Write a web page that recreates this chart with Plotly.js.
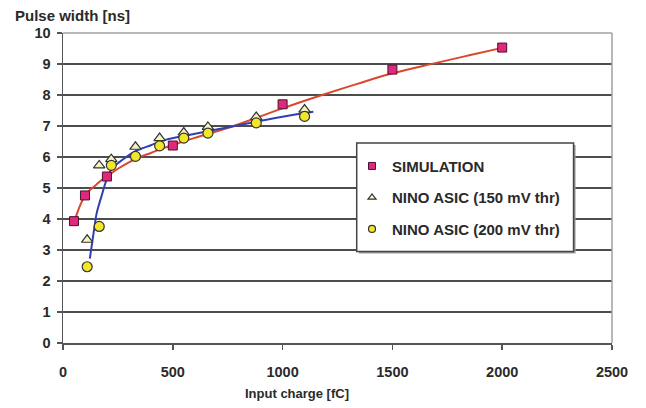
<!DOCTYPE html>
<html>
<head>
<meta charset="utf-8">
<script src="https://cdn.plot.ly/plotly-3.0.1.min.js"></script>
<style>html,body{margin:0;padding:0;background:#fff;}#chart{width:646px;height:408px;}</style>
</head>
<body>
<div id="chart"></div>
<script>
// Measured points
var simX = [50, 100, 200, 500, 1000, 1500, 2000];
var simY = [3.93, 4.76, 5.37, 6.37, 7.70, 8.82, 9.53];

var ninoX = [110, 165, 220, 330, 440, 550, 660, 880, 1100];
var nino150Y = [3.33, 5.73, 5.93, 6.33, 6.61, 6.79, 6.97, 7.29, 7.53];
var nino200Y = [2.46, 3.76, 5.73, 6.02, 6.36, 6.61, 6.77, 7.10, 7.31];

// Trend curves
var simFitX = [50, 65, 80, 100, 125, 150, 175, 200, 250, 300, 350, 400, 450, 500, 550, 620, 700, 760, 880, 1000, 1180, 1340, 1500, 1690, 1850, 2000];
var simFitY = [3.9, 4.2, 4.47, 4.75, 4.95, 5.1, 5.25, 5.37, 5.62, 5.83, 6.0, 6.13, 6.27, 6.38, 6.51, 6.66, 6.83, 6.96, 7.26, 7.57, 8.0, 8.36, 8.7, 9.02, 9.28, 9.52];

var ninoFitX = [122, 130, 137, 145, 152, 162, 175, 195, 210, 230, 260, 320, 400, 470, 550, 650, 760, 880, 1000, 1140];
var ninoFitY = [2.72, 3.1, 3.44, 3.82, 4.14, 4.42, 4.73, 5.2, 5.48, 5.68, 5.85, 6.15, 6.38, 6.56, 6.68, 6.82, 6.97, 7.14, 7.3, 7.46];

var seriesNames = ['SIMULATION', 'NINO ASIC (150 mV thr)', 'NINO ASIC (200 mV thr)'];

var FONT = 'Liberation Sans, Arial, sans-serif';
var simMarker = {symbol: 'square', color: '#e0287c', line: {color: '#4a1030', width: 1}};
var triMarker = {symbol: 'triangle-up', color: '#f7f4c4', line: {color: '#333333', width: 1.2}};
var cirMarker = {symbol: 'circle', color: '#f2e62a', line: {color: '#333333', width: 1.2}};
function mk(base, size){ return Object.assign({}, base, {size: size}); }

var traces = [
  {x: simFitX, y: simFitY, mode: 'lines', line: {color: '#d9482c', width: 2, shape: 'spline'}, showlegend: false, hoverinfo: 'skip'},
  {x: ninoFitX, y: ninoFitY, mode: 'lines', line: {color: '#3040b4', width: 2, shape: 'spline'}, showlegend: false, hoverinfo: 'skip'},
  {x: simX, y: simY, mode: 'markers', name: seriesNames[0], showlegend: false, marker: mk(simMarker, 9)},
  {x: ninoX, y: nino150Y, mode: 'markers', name: seriesNames[1], showlegend: false, marker: mk(triMarker, 10)},
  {x: ninoX, y: nino200Y, mode: 'markers', name: seriesNames[2], showlegend: false, marker: mk(cirMarker, 10)},
  // legend entries (smaller symbols, as in the original key)
  {x: [null], y: [null], mode: 'markers', name: seriesNames[0], legendgroup: 'a', marker: mk(simMarker, 7)},
  {x: [null], y: [null], mode: 'markers', name: seriesNames[1], legendgroup: 'b', marker: mk(triMarker, 7)},
  {x: [null], y: [null], mode: 'markers', name: seriesNames[2], legendgroup: 'c', marker: mk(cirMarker, 7)}
];

var L = 63.3, R = 611.7, T = 33.3, B = 343.3;
var pw = R - L, ph = B - T;
function px(v){ return (v - L) / pw; }
function py(v){ return (B - v) / ph; }

var layout = {
  width: 646, height: 408,
  margin: {l: L, r: 646 - R, t: T, b: 408 - B, pad: 0},
  paper_bgcolor: '#ffffff', plot_bgcolor: '#ffffff',
  font: {family: FONT, size: 14, color: '#2a2a2a', weight: 'bold'},
  showlegend: true,
  legend: {x: px(352), y: py(150), xanchor: 'left', yanchor: 'top',
           bgcolor: 'rgba(0,0,0,0)', borderwidth: 0, tracegroupgap: 9,
           font: {family: FONT, size: 15, color: '#2a2a2a', weight: 'bold'}},
  xaxis: {range: [0, 2500], dtick: 500, tick0: 0, showgrid: false, zeroline: false,
          showline: true, linecolor: '#555555', linewidth: 1.5,
          ticks: 'outside', ticklen: 5, tickwidth: 1.5, tickcolor: '#555555',
          ticklabelstandoff: 10,
          tickfont: {family: FONT, size: 14.5, color: '#2a2a2a', weight: 'bold'}, fixedrange: true},
  yaxis: {range: [0, 10], dtick: 1, tick0: 0, showgrid: true, gridcolor: '#4d4d4d', gridwidth: 1.5,
          zeroline: false, showline: true, linecolor: '#555555', linewidth: 1.5,
          ticks: 'outside', ticklen: 5, tickwidth: 1.5, tickcolor: '#555555',
          ticklabelstandoff: 3,
          tickfont: {family: FONT, size: 14.5, color: '#2a2a2a', weight: 'bold'}, fixedrange: true},
  shapes: [
    {type: 'line', xref: 'paper', yref: 'paper', x0: 0, x1: 1, y0: 1, y1: 1, line: {color: '#a0a0a0', width: 1.5}},
    {type: 'line', xref: 'paper', yref: 'paper', x0: 1, x1: 1, y0: 0, y1: 1, line: {color: '#a0a0a0', width: 1.5}},
    {type: 'rect', xref: 'paper', yref: 'paper', x0: px(358.7), x1: px(575.3), y0: py(253.7), y1: py(145.3),
     line: {width: 0}, fillcolor: '#9a9a9a'},
    {type: 'rect', xref: 'paper', yref: 'paper', x0: px(356.7), x1: px(573.3), y0: py(251.7), y1: py(143.3),
     line: {color: '#444444', width: 1.5}, fillcolor: '#ffffff'}
  ],
  annotations: [
    {text: 'Pulse width [ns]', xref: 'paper', yref: 'paper', x: px(13), y: py(15.5), xanchor: 'left', yanchor: 'middle',
     showarrow: false, font: {family: FONT, size: 15, color: '#2a2a2a', weight: 'bold'}},
    {text: 'Input charge [fC]', xref: 'paper', yref: 'paper', x: px(297), y: py(394), xanchor: 'center', yanchor: 'middle',
     showarrow: false, font: {family: FONT, size: 13, color: '#2a2a2a', weight: 'bold'}}
  ]
};

Plotly.newPlot('chart', traces, layout, {displayModeBar: false, staticPlot: true});
</script>
</body>
</html>
